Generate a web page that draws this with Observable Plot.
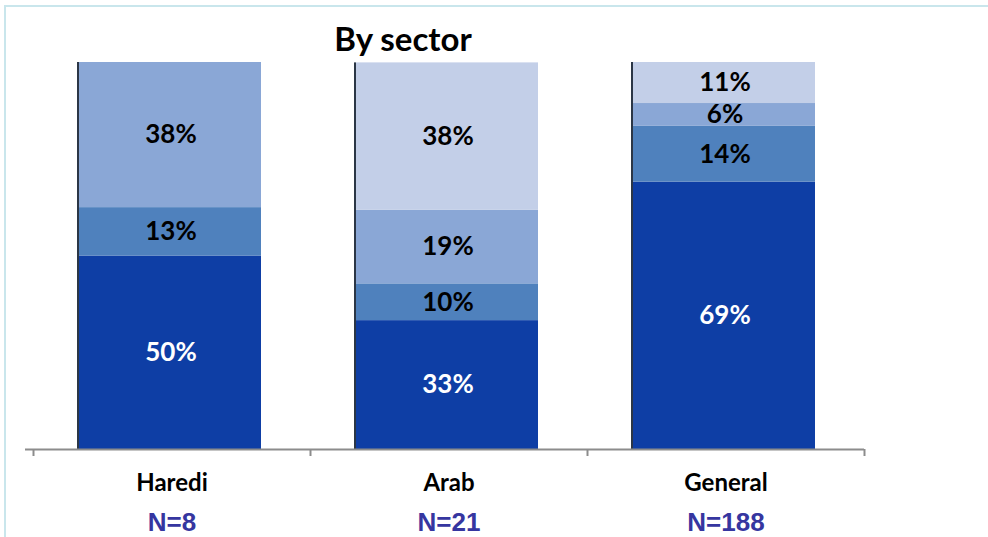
<!DOCTYPE html>
<html>
<head>
<meta charset="utf-8">
<script src="https://cdn.jsdelivr.net/npm/d3@7"></script>
<script src="https://cdn.jsdelivr.net/npm/@observablehq/plot@0.6"></script>
<style>
  html, body { margin: 0; padding: 0; background: #fff; overflow: hidden; }
  #wrap { position: relative; width: 988px; height: 537px; }
  #frame { position: absolute; left: 4px; top: 5px; width: 1000px; height: 600px;
           border-left: 2px solid #c9e6ec; border-top: 2px solid #c9e6ec; box-sizing: border-box; }
  #title { position: absolute; left: 0; width: 806px; top: 16px; text-align: center;
           font-family: Lato, sans-serif; font-weight: bold; font-size: 33px; color: #000; line-height: 44px; }
  #chart { position: absolute; left: 0; top: 0; }
</style>
</head>
<body>
<div id="wrap">
  <div id="frame"></div>
  <div id="chart"></div>
  <div id="title">By sector</div>
</div>
<script>
const sectors = ["Haredi", "Arab", "General"];
const sampleSizes = [8, 21, 188];
const levels = ["Level 1", "Level 2", "Level 3", "Level 4"];
const levelColors = ["#0e3ea5", "#4f81bd", "#8aa7d6", "#c3cfe8"];
const harediValues = [50, 12.5, 37.5, 0];
const arabValues = [33.3, 9.5, 19.0, 38.1];
const generalValues = [69.1, 14.4, 5.9, 10.6];

const seriesBySector = [harediValues, arabValues, generalValues];
const rows = [];
sectors.forEach((s, i) => levels.forEach((l, j) => {
  if (seriesBySector[i][j] > 0) rows.push({sector: s, level: l, value: seriesBySector[i][j]});
}));
const totals = sectors.map((s, i) => ({sector: s, total: d3.sum(seriesBySector[i])}));
const nLabels = sectors.map((s, i) => ({sector: s, n: "N=" + sampleSizes[i]}));

const W = 988, H = 537, mL = 33, mR = 124, mT = 62, mB = 88;
const step = (W - mL - mR) / sectors.length;

const chart = Plot.plot({
  width: W, height: H,
  marginLeft: mL, marginRight: mR, marginTop: mT, marginBottom: mB,
  style: {fontFamily: "Lato, sans-serif", background: "transparent"},
  x: {domain: sectors, padding: 0, label: null},
  y: {domain: [0, 100], axis: null},
  color: {domain: levels, range: levelColors},
  marks: [
    Plot.barY(totals, {x: "sector", y: "total", fill: "#2b3646", insetLeft: 44, insetRight: step - 46}),
    Plot.barY(rows, Plot.stackY({x: "sector", y: "value", fill: "level", order: levels, insetLeft: 46, insetRight: 49})),
    Plot.text(rows, Plot.stackY({x: "sector", y: "value", z: "level", order: levels,
      text: d => Math.round(d.value) + "%",
      fill: d => d.level === levels[0] ? "#ffffff" : "#000000",
      fontSize: 26, fontWeight: "bold", dx: -1})),
    Plot.ruleY([0], {stroke: "#8c8c8c", strokeWidth: 2, insetLeft: -8}),
    Plot.ruleX(sectors, {x: d => d, stroke: "#8c8c8c", strokeWidth: 2, dx: -step / 2, insetTop: H - mT - mB, insetBottom: -7}),
    Plot.ruleX(sectors.slice(-1), {x: d => d, stroke: "#8c8c8c", strokeWidth: 2, dx: step / 2, insetTop: H - mT - mB, insetBottom: -7}),
    Plot.axisX({tickSize: 0, tickPadding: 24, fontSize: 24, fontWeight: "bold", fill: "#000", label: null}),
    Plot.text(nLabels, {x: "sector", text: "n", frameAnchor: "bottom", dy: 81,
      fontFamily: "Liberation Sans, Arial, sans-serif", fontWeight: "bold", fontSize: 26, fill: "#3636a0"})
  ]
});
document.getElementById("chart").appendChild(chart);
</script>
</body>
</html>
